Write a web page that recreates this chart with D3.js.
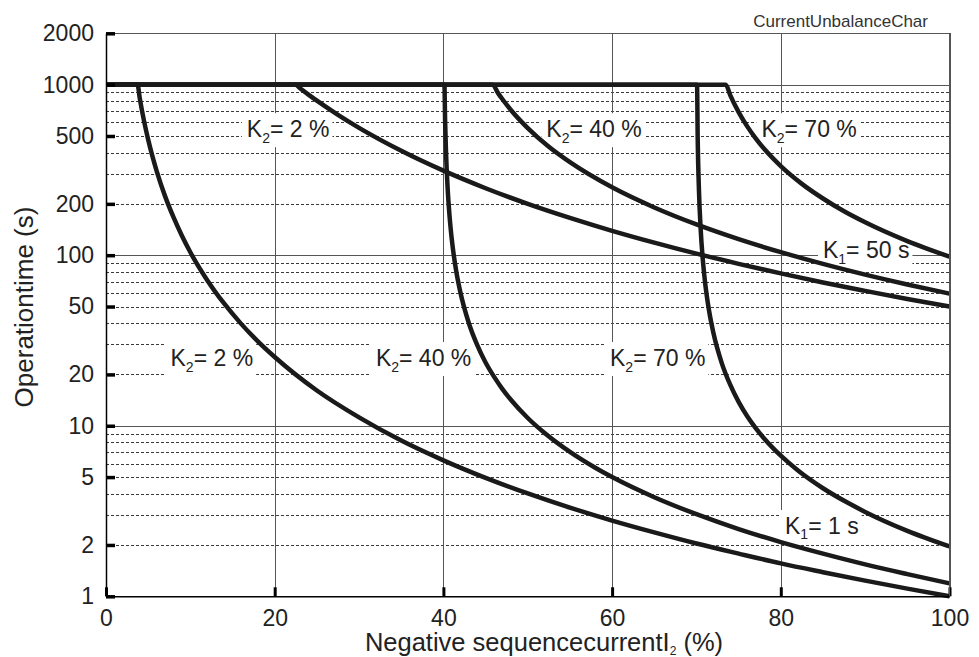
<!DOCTYPE html>
<html>
<head>
<meta charset="utf-8">
<script src="https://cdn.jsdelivr.net/npm/d3@7"></script>
<style>
  html, body { margin: 0; padding: 0; background: #fff; }
  svg { display: block; font-family: "Liberation Sans", Arial, Helvetica, sans-serif; }
</style>
</head>
<body>
<svg id="chart" width="979" height="657"></svg>
<script>
// ---------- data ----------
const xTicks = [0, 20, 40, 60, 80, 100];
const yTicks = [1, 2, 5, 10, 20, 50, 100, 200, 500, 1000, 2000];
const ySolidGrid = [10, 100, 1000, 2000];
const yDashedGrid = [2, 3, 4, 5, 6, 7, 8, 9, 20, 30, 40, 50, 60, 70, 80, 90, 200, 300, 400, 500, 600, 700, 800, 900];
const xGrid = [20, 40, 60, 80, 100];

// operation time (s) vs negative sequence current I2 (%)
const k1_1s_k2_2 = [[0,1000],[3.74,1000],[4,833],[4.5,615],[5,476],[5.5,381],[6,312.5],[7,222],[8,167],[9,130],[10,104],[12,71.4],[14,52.1],[16,39.7],[18,31.25],[20,25.3],[25,16.1],[30,11.2],[35,8.19],[40,6.27],[45,4.95],[50,4.01],[55,3.31],[60,2.78],[65,2.37],[70,2.04],[75,1.78],[80,1.56],[85,1.385],[90,1.235],[95,1.109],[100,1.0]];
const k1_1s_k2_40 = [[0,1000],[40.12,1000],[40.2,623],[40.3,415],[40.5,248],[40.75,165],[41,123],[41.5,81.8],[42,61],[43,40.2],[44,29.8],[45,23.5],[46,19.4],[47,16.4],[48,14.2],[50,11.1],[52,9.06],[55,7.02],[58,5.67],[60,5],[65,3.81],[70,3.03],[75,2.48],[80,2.08],[85,1.78],[90,1.54],[95,1.35],[100,1.19]];
const k1_1s_k2_70 = [[0,1000],[70.07,1000],[70.15,476],[70.3,238],[70.5,142],[70.75,94.7],[71,70.9],[71.5,47.1],[72,35.2],[73,23.3],[74,17.4],[75,13.8],[76,11.4],[77,9.72],[78,8.45],[80,6.67],[82,5.48],[85,4.30],[88,3.52],[90,3.125],[95,2.42],[100,1.96]];
const k1_50s_k2_2 = [[0,1000],[22.45,1000],[23,952],[24,874],[25,805],[27.5,665],[30,558],[35,409.5],[40,313],[45,247],[50,200],[55,165.5],[60,139],[65,118.5],[70,102.1],[75,89],[80,78.2],[85,69.2],[90,61.8],[95,55.4],[100,50.0]];
const k1_50s_k2_40 = [[0,1000],[45.83,1000],[46.5,889],[47,821],[48,710],[50,556],[52.5,432],[55,351],[60,250],[65,190.5],[70,151.5],[75,124.2],[80,104.2],[85,88.9],[90,76.9],[95,67.3],[100,59.5]];
const k1_50s_k2_70 = [[0,1000],[73.48,1000],[74,868],[75,690],[76,571],[77,486],[78,422],[80,333],[82.5,262],[85,215],[87.5,181],[90,156],[95,121],[100,98]];
const seriesList = [k1_1s_k2_2, k1_1s_k2_40, k1_1s_k2_70, k1_50s_k2_2, k1_50s_k2_40, k1_50s_k2_70];

// curve labels: main letter, subscript, remainder, anchor (I2 %, time s)
const labelMain = ["K", "K", "K", "K", "K", "K", "K", "K"];
const labelSub  = ["2", "2", "2", "1", "2", "2", "2", "1"];
const labelRest = ["= 2 %", "= 40 %", "= 70 %", "= 50 s", "= 2 %", "= 40 %", "= 70 %", "= 1 s"];
const labelAnchorI = [16.7, 52.2, 77.7, 85.0, 7.65, 32.0, 59.75, 80.5];
const labelAnchorT = [492, 492, 492, 96.2, 22.4, 22.4, 22.4, 2.32];

const yTitle = "Operationtime (s)";
const xTitleMain = "Negative sequencecurrentI";
const xTitleSub = "2";
const xTitleRest = " (%)";
const cornerNote = "CurrentUnbalanceChar";

// ---------- drawing ----------
const svg = d3.select("#chart");
const x = d3.scaleLinear().domain([0, 100]).range([106, 949.5]);
const y = d3.scaleLog().domain([1, 2000]).range([596.3, 33.3]);
const snap = v => Math.round(v) + 0.5;

const grid = svg.append("g").attr("shape-rendering", "crispEdges");
grid.selectAll("line.dash").data(yDashedGrid).enter().append("line")
  .attr("x1", x(0)).attr("x2", x(100))
  .attr("y1", d => snap(y(d))).attr("y2", d => snap(y(d)))
  .attr("stroke", "#3a3a3a").attr("stroke-width", 1).attr("stroke-dasharray", "3,2");
grid.selectAll("line.hs").data(ySolidGrid).enter().append("line")
  .attr("x1", x(0)).attr("x2", x(100))
  .attr("y1", d => snap(y(d))).attr("y2", d => snap(y(d)))
  .attr("stroke", "#555").attr("stroke-width", 1);
grid.selectAll("line.vs").data(xGrid).enter().append("line")
  .attr("x1", d => snap(x(d))).attr("x2", d => snap(x(d)))
  .attr("y1", y(1)).attr("y2", y(2000))
  .attr("stroke", "#555").attr("stroke-width", 1);

// labels with white boxes
const labels = svg.append("g").attr("font-size", 23).attr("fill", "#222");
labelMain.forEach((m, i) => {
  const g = labels.append("g");
  const bx = x(labelAnchorI[i]), by = y(labelAnchorT[i]);
  const rect = g.append("rect").attr("fill", "#fff");
  const t = g.append("text").attr("x", bx).attr("y", by);
  t.append("tspan").text(m);
  t.append("tspan").attr("font-size", 14).attr("dy", 5.5).text(labelSub[i]);
  t.append("tspan").attr("dy", -5.5).text(labelRest[i]);
  const bb = t.node().getBBox();
  rect.attr("x", bb.x - 5).attr("y", by - 24).attr("width", bb.width + 8).attr("height", 34);
});

// curves
const line = d3.line().x(d => x(d[0])).y(d => y(d[1])).curve(d3.curveMonotoneX);
svg.append("g").selectAll("path").data(seriesList).enter().append("path")
  .attr("d", line)
  .attr("fill", "none").attr("stroke", "#1a1a1a").attr("stroke-width", 4.5)
  .attr("stroke-linejoin", "round");

// axes
const yAxis = svg.append("g").attr("transform", `translate(${x(0)},0)`)
  .call(d3.axisLeft(y).tickValues(yTicks).tickFormat(d3.format("d")).tickSize(-9).tickSizeOuter(0).tickPadding(12));
const xAxis = svg.append("g").attr("transform", `translate(0,${y(1)})`)
  .call(d3.axisBottom(x).tickValues(xTicks).tickFormat(d3.format("d")).tickSize(-9).tickSizeOuter(0).tickPadding(13));
[yAxis, xAxis].forEach(a => {
  a.select(".domain").attr("stroke", "#000").attr("stroke-width", 1.5);
  a.selectAll(".tick line").attr("stroke", "#000").attr("stroke-width", 3.5);
  a.selectAll(".tick text").attr("font-size", 23).attr("fill", "#222")
    .attr("font-family", "'Liberation Sans', Arial, Helvetica, sans-serif");
});
xAxis.selectAll(".tick line").attr("stroke-width", 3);

// right border (gray)
svg.append("line").attr("x1", x(100)).attr("x2", x(100)).attr("y1", y(1)).attr("y2", y(2000))
  .attr("stroke", "#555").attr("stroke-width", 1);

// titles
svg.append("text").attr("transform", `translate(33,307) rotate(-90)`)
  .attr("text-anchor", "middle").attr("font-size", 26).attr("fill", "#222").text(yTitle);
const xt = svg.append("text").attr("x", 544).attr("y", 650.5)
  .attr("text-anchor", "middle").attr("font-size", 25.5).attr("fill", "#222");
xt.append("tspan").text(xTitleMain);
xt.append("tspan").attr("font-size", 12).attr("dy", 4).text(xTitleSub);
xt.append("tspan").attr("dy", -4).text(xTitleRest);

svg.append("text").attr("x", 928).attr("y", 26.5).attr("text-anchor", "end")
  .attr("font-size", 17).attr("fill", "#333").text(cornerNote);
</script>
</body>
</html>
